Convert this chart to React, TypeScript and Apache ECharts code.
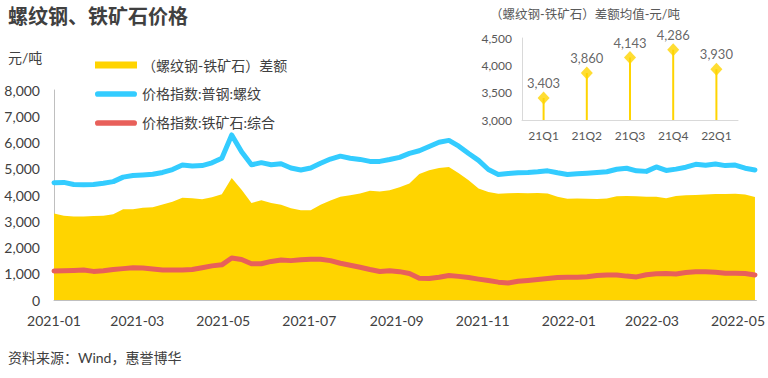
import React, { useEffect, useRef } from "react";
import * as echarts from "echarts";

const dates = [
  "2021-01-01", "2021-01-08", "2021-01-15", "2021-01-22", "2021-01-29",
  "2021-02-05", "2021-02-12", "2021-02-19", "2021-02-26",
  "2021-03-05", "2021-03-12", "2021-03-19", "2021-03-26",
  "2021-04-02", "2021-04-09", "2021-04-16", "2021-04-23", "2021-04-30",
  "2021-05-07", "2021-05-14", "2021-05-21", "2021-05-28",
  "2021-06-04", "2021-06-11", "2021-06-18", "2021-06-25",
  "2021-07-02", "2021-07-09", "2021-07-16", "2021-07-23", "2021-07-30",
  "2021-08-06", "2021-08-13", "2021-08-20", "2021-08-27",
  "2021-09-03", "2021-09-10", "2021-09-17", "2021-09-24",
  "2021-10-01", "2021-10-08", "2021-10-15", "2021-10-22", "2021-10-29",
  "2021-11-05", "2021-11-12", "2021-11-19", "2021-11-26",
  "2021-12-03", "2021-12-10", "2021-12-17", "2021-12-24", "2021-12-31",
  "2022-01-07", "2022-01-14", "2022-01-21", "2022-01-28",
  "2022-02-04", "2022-02-11", "2022-02-18", "2022-02-25",
  "2022-03-04", "2022-03-11", "2022-03-18", "2022-03-25",
  "2022-04-01", "2022-04-08", "2022-04-15", "2022-04-22", "2022-04-29",
  "2022-05-06", "2022-05-13",
];

// (螺纹钢-铁矿石)差额
const spreadValues = [
  3300, 3210, 3180, 3185, 3200, 3205, 3270, 3454, 3460, 3510, 3530, 3640, 3740,
  3900, 3874, 3840, 3912, 4030, 4650, 4200, 3700, 3800, 3700, 3630, 3500, 3420,
  3420, 3630, 3790, 3930, 3990, 4060, 4160, 4135, 4180, 4300, 4440, 4800, 4940,
  5030, 5070, 4830, 4560, 4250, 4110, 4045, 4066, 4075, 4065, 4075, 4060, 3930,
  3860, 3870, 3858, 3850, 3870, 3950, 3962, 3955, 3937, 3930, 3880, 3962, 3995,
  4001, 4015, 4039, 4039, 4050, 4020, 3920,
];

// 价格指数:普钢:螺纹
const rebarValues = [
  4470, 4480, 4400, 4390, 4400, 4450, 4510, 4680, 4740, 4762, 4790, 4860, 4970,
  5140, 5105, 5120, 5225, 5400, 6287, 5650, 5150, 5232, 5150, 5190, 5030, 4953,
  5030, 5210, 5370, 5480, 5400, 5356, 5280, 5280, 5350, 5435, 5588, 5685, 5850,
  6010, 6080, 5860, 5580, 5320, 4970, 4780, 4815, 4846, 4860, 4885, 4920, 4845,
  4780, 4805, 4830, 4855, 4886, 4980, 5020, 4920, 4900, 5070, 4935, 4985, 5060,
  5170, 5130, 5180, 5120, 5140, 5020, 4955,
];

// 价格指数:铁矿石:综合
const oreValues = [
  1105, 1112, 1125, 1140, 1090, 1115, 1160, 1195, 1225, 1215, 1180, 1143, 1143,
  1143, 1160, 1230, 1300, 1340, 1600, 1545, 1380, 1380, 1470, 1520, 1500, 1530,
  1549, 1549, 1500, 1400, 1325, 1245, 1160, 1085, 1112, 1080, 1010, 830, 820,
  870, 935, 900, 855, 795, 740, 680, 650, 715, 745, 780, 815, 855, 870, 870,
  887, 930, 953, 953, 910, 880, 960, 1000, 1008, 991, 1045, 1078, 1080, 1060,
  1016, 1016, 1010, 955,
];

const xTickDates = [
  "2021-01-01", "2021-03-01", "2021-05-01", "2021-07-01", "2021-09-01",
  "2021-11-01", "2022-01-01", "2022-03-01", "2022-05-01",
];
const yTicks = [0, 1000, 2000, 3000, 4000, 5000, 6000, 7000, 8000];

const quarters = ["21Q1", "21Q2", "21Q3", "21Q4", "22Q1"];
const quarterAvg = [3403, 3860, 4143, 4286, 3930];

const seriesNames = [
  "（螺纹钢-铁矿石）差额",
  "价格指数:普钢:螺纹",
  "价格指数:铁矿石:综合",
];

const YELLOW = "#FFD400";
const BLUE = "#33CCFF";
const RED = "#E8605A";
const TEXT = "#404040";
const AXIS = "#BFBFBF";
const FONT = 'Lato, "Noto Sans CJK SC", sans-serif';
const CAPSULE =
  "path://M3,0 L41,0 A3,3 0 0 1 41,6 L3,6 A3,3 0 0 1 3,0 Z";

function toTs(s: string): number {
  const [y, m, d] = s.split("-").map(Number);
  return Date.UTC(y, m - 1, d);
}

function fmtThousands(v: number): string {
  return String(v).replace(/\B(?=(\d{3})+(?!\d))/g, ",");
}

export default function App() {
  const ref = useRef<HTMLDivElement>(null);

  useEffect(() => {
    if (!ref.current) return;
    const chart = echarts.init(ref.current, undefined, { renderer: "svg" });

    const pairs = (vals: number[]) => dates.map((d, i) => [toTs(d), vals[i]]);

    chart.setOption({
      animation: false,
      textStyle: { fontFamily: FONT },
      title: [
        {
          text: "螺纹钢、铁矿石价格",
          left: 8,
          top: 6,
          padding: 0,
          textStyle: { fontSize: 20, fontWeight: "bold", color: TEXT, fontFamily: FONT },
        },
        {
          text: "（螺纹钢-铁矿石）差额均值-元/吨",
          left: 490,
          top: 8,
          padding: 0,
          textStyle: { fontSize: 12.5, fontWeight: "normal", color: "#595959", fontFamily: FONT },
        },
        {
          text: "资料来源：Wind，惠誉博华",
          left: 8,
          top: 350,
          padding: 0,
          textStyle: { fontSize: 14, fontWeight: "normal", color: TEXT, fontFamily: FONT },
        },
        {
          text: "元/吨",
          left: 8,
          top: 50,
          padding: 0,
          textStyle: { fontSize: 14, fontWeight: "normal", color: TEXT, fontFamily: FONT },
        },
      ],
      legend: {
        orient: "vertical",
        left: 95,
        top: 58,
        padding: 0,
        itemGap: 15,
        itemWidth: 42,
        itemHeight: 7,
        textStyle: { fontSize: 14, color: TEXT, fontFamily: FONT },
        data: [
          { name: seriesNames[0], icon: "rect" },
          { name: seriesNames[1], icon: CAPSULE },
          { name: seriesNames[2], icon: CAPSULE },
        ],
      },
      grid: [
        { left: 54, right: 11, top: 90, bottom: 78, containLabel: false },
        { left: 522, width: 216, top: 38, height: 82, containLabel: false },
      ],
      xAxis: [
        {
          type: "value",
          gridIndex: 0,
          min: toTs("2021-01-01"),
          max: toTs("2022-05-14"),
          axisLine: { show: true, lineStyle: { color: AXIS, width: 1 } },
          axisTick: { show: false },
          splitLine: { show: false },
          axisLabel: {
            customValues: xTickDates.map(toTs),
            margin: 13,
            fontSize: 14,
            color: TEXT,
            hideOverlap: false,
            showMinLabel: true,
            showMaxLabel: true,
            formatter: (v: number) => {
              const d = new Date(v);
              return `${d.getUTCFullYear()}-${String(d.getUTCMonth() + 1).padStart(2, "0")}`;
            },
          },
        },
        {
          type: "category",
          gridIndex: 1,
          data: quarters,
          axisLine: { show: true, lineStyle: { color: "#D9D9D9", width: 1 } },
          axisTick: { show: false },
          axisLabel: { fontSize: 12, color: "#595959", margin: 9 },
        },
      ],
      yAxis: [
        {
          type: "value",
          gridIndex: 0,
          min: yTicks[0],
          max: yTicks[yTicks.length - 1],
          interval: 1000,
          axisLine: { show: true, lineStyle: { color: AXIS, width: 1 } },
          axisTick: { show: false },
          splitLine: { show: false },
          axisLabel: {
            fontSize: 14,
            color: TEXT,
            margin: 14,
            formatter: (v: number) => fmtThousands(v),
          },
        },
        {
          type: "value",
          gridIndex: 1,
          min: 3000,
          max: 4500,
          interval: 500,
          axisLine: { show: true, lineStyle: { color: "#D9D9D9", width: 1 } },
          axisTick: { show: false },
          splitLine: { show: false },
          axisLabel: {
            fontSize: 12,
            color: "#595959",
            margin: 10,
            formatter: (v: number) => fmtThousands(v),
          },
        },
      ],
      series: [
        {
          name: seriesNames[0],
          type: "line",
          xAxisIndex: 0,
          yAxisIndex: 0,
          data: pairs(spreadValues),
          showSymbol: false,
          symbol: "none",
          color: YELLOW,
          lineStyle: { width: 0, color: YELLOW },
          areaStyle: { color: YELLOW, opacity: 1 },
          z: 1,
        },
        {
          name: seriesNames[1],
          type: "line",
          xAxisIndex: 0,
          yAxisIndex: 0,
          data: pairs(rebarValues),
          showSymbol: false,
          symbol: "none",
          color: BLUE,
          lineStyle: { width: 5, color: BLUE, cap: "round", join: "round" },
          z: 3,
        },
        {
          name: seriesNames[2],
          type: "line",
          xAxisIndex: 0,
          yAxisIndex: 0,
          data: pairs(oreValues),
          showSymbol: false,
          symbol: "none",
          color: RED,
          lineStyle: { width: 5, color: RED, cap: "round", join: "round" },
          z: 3,
        },
        {
          name: "差额均值柱",
          type: "bar",
          xAxisIndex: 1,
          yAxisIndex: 1,
          data: quarterAvg,
          barWidth: 2,
          itemStyle: { color: YELLOW },
          clip: true,
          z: 2,
        },
        {
          name: "差额均值",
          type: "scatter",
          xAxisIndex: 1,
          yAxisIndex: 1,
          data: quarterAvg,
          symbol: "diamond",
          symbolSize: [12, 13],
          itemStyle: { color: YELLOW },
          label: {
            show: true,
            position: "top",
            distance: 2,
            fontSize: 13,
            color: TEXT,
            formatter: (p: any) => fmtThousands(p.value),
          },
          z: 4,
        },
      ],
    });

    return () => chart.dispose();
  }, []);

  return (
    <div
      ref={ref}
      style={{ position: "absolute", left: 0, top: 0, width: 768, height: 378, background: "#fff" }}
    />
  );
}
